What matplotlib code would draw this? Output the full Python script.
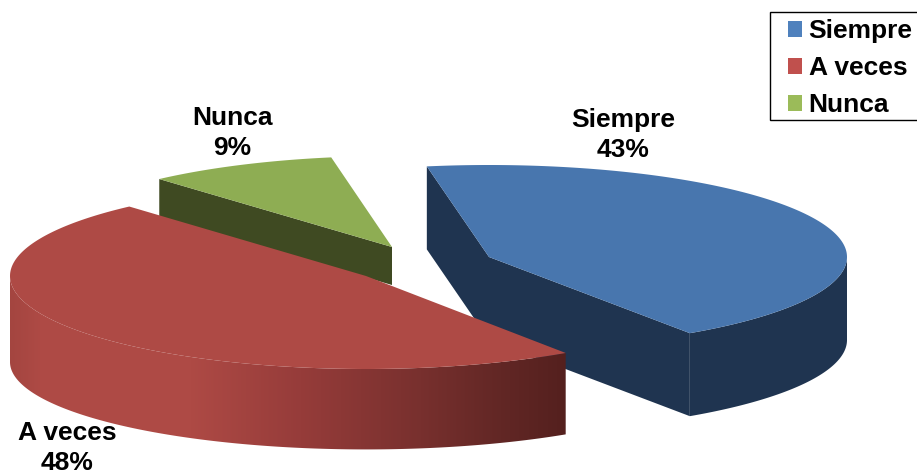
import numpy as np
import matplotlib
matplotlib.use('Agg')
import matplotlib.pyplot as plt
from matplotlib.patches import Polygon, Patch, Rectangle

categories = ['Siempre', 'A veces', 'Nunca']
values = [43.3, 47.9, 8.8]

top_colors = ['#4876AE', '#AE4A45', '#8EAD53']
side_colors = ['#1F3450', '#AE4A45', '#3F4A22']
legend_colors = ['#4F81BD', '#C0504D', '#9BBB59']

# exploded slices, all in pixel coordinates of the picture
centers = [(489, 257), (366, 276), (392, 247)]
radii = [(358, 92), (356, 93), (350, 91)]
depths = [83, 86, 38]
label_pos = [(623, 135), (67, 448), (232, 133)]
start_angle = 100


def rim(i, a0, a1, n=200, flat=1.0):
    t = np.radians(np.linspace(a0, a1, n))
    x = centers[i][0] + radii[i][0] * np.cos(t)
    y = centers[i][1] - radii[i][1] * flat * np.sin(t)
    return x, y


fig = plt.figure(figsize=(9.17, 4.75), dpi=100)
ax = fig.add_axes([0, 0, 1, 1])
ax.set_xlim(0, 917)
ax.set_ylim(475, 0)
ax.axis('off')

# slice angles, clockwise from the start angle
angles = []
a = start_angle
for v in values:
    angles.append((a, a - v / sum(values) * 360))
    a = angles[-1][1]

# green goes first, red last because it sits in front
for i in [2, 0, 1]:
    a0, a1 = angles[i]
    d = depths[i]
    cx, cy = centers[i]
    x, y = rim(i, a0, a1)
    if i == 0:
        # inner faces and the outer wall
        side = [(x[0], y[0]), (x[0], y[0] + d), (cx, cy + d), (x[-1], y[-1] + d), (x[-1], y[-1]), (cx, cy)]
        ax.add_patch(Polygon(side, fc=side_colors[i], ec='none', zorder=1))
        xw, yw = rim(i, 0, a1)
        wall = np.r_[np.c_[xw, yw], np.c_[xw, yw + d][::-1]]
        ax.add_patch(Polygon(wall, fc=side_colors[i], ec='none', zorder=1))
    elif i == 2:
        # only the face towards the viewer shows
        side = [(x[0], y[0]), (x[0], y[0] + d), (cx, cy + d), (cx, cy)]
        ax.add_patch(Polygon(side, fc=side_colors[i], ec='none', zorder=1))
    else:
        # red wall, bottom edge a bit flatter than the top one
        xw, yw = rim(i, -180, angles[0][1])
        xb, yb = rim(i, -180, angles[0][1], flat=0.94)
        wall = np.r_[np.c_[xw, yw], np.c_[xb, yb + d][::-1]]
        clip = Polygon(wall, fc='none', ec='none', zorder=3)
        ax.add_patch(clip)
        gx = np.arange(0, 600)
        stops_x = [8, 40, 190, 300, 420, 500, 566]
        stops = np.array([[163, 69, 64], [174, 74, 69], [174, 74, 69], [150, 60, 58],
                          [120, 48, 46], [98, 39, 37], [84, 32, 30]]) / 255
        grad = np.stack([np.interp(gx, stops_x, stops[:, k]) for k in range(3)], axis=-1)
        im = ax.imshow(grad[None, :, :], extent=(0, 600, 475, 0), aspect='auto', zorder=3)
        im.set_clip_path(clip)
    top = np.r_[[(cx, cy)], np.c_[x, y]]
    ax.add_patch(Polygon(top, fc=top_colors[i], ec='none', zorder=4 if i == 1 else 2))

ax.set_xlim(0, 917)
ax.set_ylim(475, 0)

font = dict(family='Liberation Sans', weight='bold', size=19, color='black')
for i in range(3):
    pct = '%d%%' % round(values[i])
    ax.text(label_pos[i][0], label_pos[i][1], categories[i] + '\n' + pct, ha='center', va='center',
            linespacing=1.3, zorder=6, **font)

# frame runs off the right side of the picture
ax.add_patch(Rectangle((769.5, 11.5), 170, 108, fc='white', ec='black', lw=1.0, zorder=7))
handles = [Patch(fc=legend_colors[i], ec='none', label=categories[i]) for i in range(3)]
leg = ax.legend(handles=handles, loc='upper left', bbox_to_anchor=(788, 19),
                bbox_transform=ax.transData, frameon=False, borderaxespad=0, borderpad=0,
                handlelength=0.54, handleheight=0.54, handletextpad=0.24, labelspacing=0.5,
                prop=dict(family='Liberation Sans', weight='bold', size=19))
leg.set_zorder(8)

fig.savefig('out.png', dpi=100)
